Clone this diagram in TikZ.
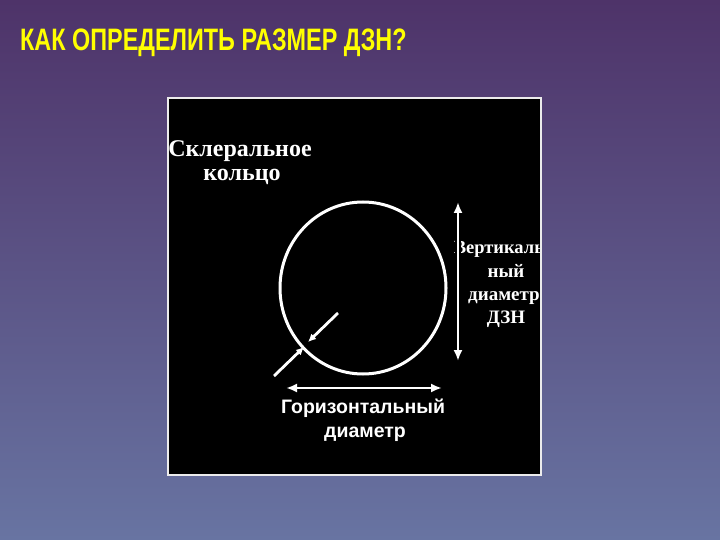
\documentclass[tikz,border=0pt]{standalone}
\usepackage{fontspec}
\setmainfont{Liberation Serif}
\newfontfamily\arialf{Liberation Sans}
\usetikzlibrary{arrows.meta}
\definecolor{bgtop}{HTML}{4E3369}
\definecolor{bgmid}{HTML}{574878}
\definecolor{bgbot}{HTML}{6874A2}
\definecolor{ttlyellow}{HTML}{FFFF00}
\begin{document}
\begin{tikzpicture}[x=1pt,y=-1pt,
  lbl/.style={inner sep=0pt, anchor=base, text=white},
  serifbig/.style={lbl, font=\bfseries\fontsize{24}{26}\selectfont},
  serifsmall/.style={lbl, font=\bfseries\fontsize{19}{23}\selectfont},
  sanslbl/.style={lbl, font=\arialf\bfseries\fontsize{19.5}{24}\selectfont},
  ttl/.style={inner sep=0pt, anchor=base west, font=\arialf\bfseries\fontsize{31}{36}\selectfont},
  whitearrow/.style={draw=white, line width=2.6pt, {Latex[length=11pt,width=9pt]}-{Latex[length=11pt,width=9pt]}},
  onearrow/.style={draw=white, line width=2.8pt, -{Latex[length=8pt,width=7.5pt]}},
  ring/.style={draw=white, line width=3pt}
]
\useasboundingbox (0,0) rectangle (720,540);
\shade[top color=bgtop, middle color=bgmid, bottom color=bgbot] (0,0) rectangle (720,540);

% title
\node[ttl, text=ttlyellow] (title) at (20,50.5) {\scalebox{0.755}[1]{КАК ОПРЕДЕЛИТЬ РАЗМЕР ДЗН?}};

% black panel
\fill[black] (168,98) rectangle (541,475);

\begin{scope}
\clip (168,98) rectangle (541,475);
\node[serifbig] (scl1) at (240,157) {Склеральное};
\node[serifbig] (scl2) at (242,181) {кольцо};
\node[serifsmall, font=\bfseries\fontsize{18.5}{23}\selectfont] (v1) at (502,253) {Вертикаль-};
\node[serifsmall] (v2) at (506,277) {ный};
\node[serifsmall] (v3) at (504,300) {диаметр};
\node[serifsmall] (v4) at (506,323) {ДЗН};
\node[sanslbl] (h1) at (363,413) {Горизонтальный};
\node[sanslbl] (h2) at (365,437) {диаметр};
\end{scope}

\draw[draw=white!85!gray, line width=1.2pt] (168,98) rectangle (541,475);

% disc
\draw[ring] (363,288) ellipse [x radius=83, y radius=86];

% coordinates
\coordinate (vt) at (458,202);
\coordinate (vb) at (458,361);
\coordinate (hl) at (286,388);
\coordinate (hr) at (442,388);
\coordinate (a1s) at (338,313);
\coordinate (a1e) at (308,342);
\coordinate (a2s) at (274,376);
\coordinate (a2e) at (304,347);

% vertical arrow with dark edge hiding part of the letter
\draw[black, line width=6pt] (vt) -- (vb);
\draw[whitearrow] (vt) -- (vb);
\draw[whitearrow] (hl) -- (hr);
\draw[onearrow] (a1s) -- (a1e);
\draw[onearrow] (a2s) -- (a2e);
\end{tikzpicture}
\end{document}
